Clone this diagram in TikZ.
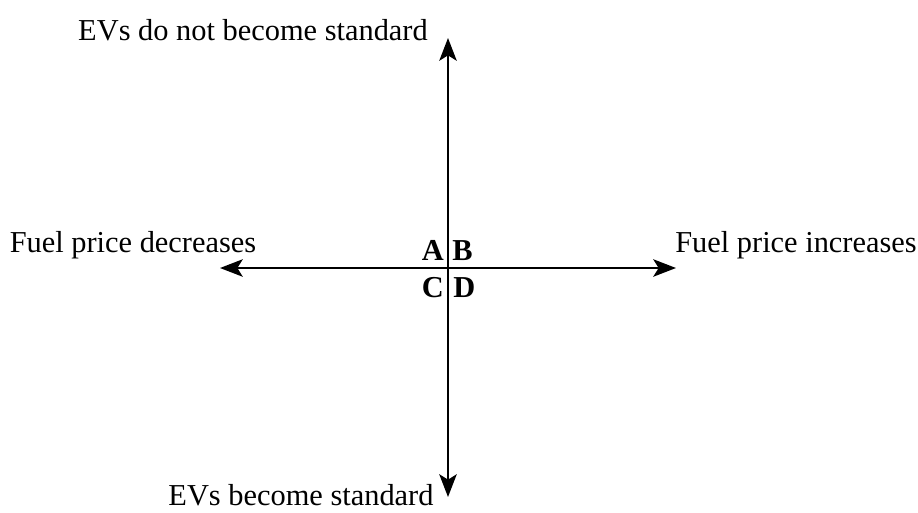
\documentclass[tikz,border=0pt]{standalone}
\usepackage{fontspec}
\setmainfont{Liberation Serif}
\usetikzlibrary{arrows.meta}

\begin{document}
\begin{tikzpicture}[x=0.75pt, y=-0.75pt,
    axis/.style={line width=2.1pt, {Stealth[length=17pt, width=13pt, inset=4pt]}-{Stealth[length=17pt, width=13pt, inset=4pt]}},
    lbl/.style={inner sep=0pt, font=\fontsize{22.8}{27}\selectfont},
    quad/.style={lbl, font=\fontsize{22.8}{27}\selectfont\bfseries}]
  \useasboundingbox (0,0) rectangle (918,512);
  % ends of the two axes
  \coordinate (north) at (448,38);
  \coordinate (south) at (448,497);
  \coordinate (west) at (220,268);
  \coordinate (east) at (676,268);
  \draw[axis] (south) -- (north);
  \draw[axis] (west) -- (east);
  % scenario labels
  \node[lbl, anchor=base] (evno) at (253,40) {EVs do not become standard};
  \node[lbl, anchor=base] (evyes) at (301,505) {EVs become standard};
  \node[lbl, anchor=base] (fueldown) at (133,252) {Fuel price decreases};
  \node[lbl, anchor=base] (fuelup) at (796,252) {Fuel price increases};
  % quadrants
  \node[quad, anchor=base east] (qa) at (444,260) {A};
  \node[quad, anchor=base west] (qb) at (452,260) {B};
  \node[quad, anchor=base east] (qc) at (444,297) {C};
  \node[quad, anchor=base west] (qd) at (453,297) {D};
\end{tikzpicture}
\end{document}
